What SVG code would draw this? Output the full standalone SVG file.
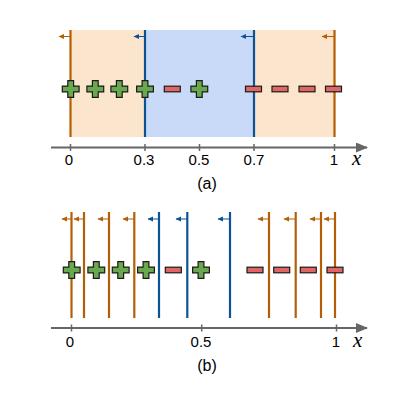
<svg xmlns="http://www.w3.org/2000/svg" width="415" height="415" viewBox="0 0 415 415">
<defs>
<style>
.o{stroke:#b45f06;stroke-width:2.2;fill:none}
.b{stroke:#0b5394;stroke-width:2.2;fill:none}
.ao{stroke:#b45f06;stroke-width:1;fill:none}
.ab{stroke:#0b5394;stroke-width:1;fill:none}
.ax{stroke:#666;stroke-width:2;fill:none}
.tk{stroke:#666;stroke-width:1.5}
.lbl{font-family:"Liberation Sans",Arial,sans-serif;font-size:15px;fill:#000;text-anchor:middle}
.cap{font-family:"Liberation Sans",Arial,sans-serif;font-size:16px;fill:#000;text-anchor:middle}
.xv{font-family:"Liberation Serif","Times New Roman",serif;font-style:italic;font-size:21px;fill:#000}
.plus{fill:#6aa84f;stroke:#1a1a1a;stroke-width:1.2}
.minus{fill:#e06666;stroke:#1a1a1a;stroke-width:1.2}
</style>
<marker id="ahO" markerWidth="6" markerHeight="6" refX="5" refY="3" orient="auto" markerUnits="userSpaceOnUse"><path d="M0,0.5 L5.5,3 L0,5.5 Z" fill="#b45f06"/></marker>
<marker id="ahB" markerWidth="6" markerHeight="6" refX="5" refY="3" orient="auto" markerUnits="userSpaceOnUse"><path d="M0,0.5 L5.5,3 L0,5.5 Z" fill="#0b5394"/></marker>
<marker id="ahX" markerWidth="12" markerHeight="10" refX="11" refY="5" orient="auto" markerUnits="userSpaceOnUse"><path d="M0,0 L12,5 L0,10 Z" fill="#666"/></marker>
<path id="P" class="plus" d="M-2.9,-8.4 H2.9 V-2.9 H8.4 V2.9 H2.9 V8.4 H-2.9 V2.9 H-8.4 V-2.9 H-2.9 Z"/>
<rect id="M" class="minus" x="-8" y="-2.8" width="16" height="5.6"/>
</defs>

<g id="panel-a">
<g id="regions-a">
<rect x="70.5" y="30" width="74.5" height="107" fill="#fce5cd"/>
<rect x="145" y="30" width="109" height="107" fill="#c9daf8"/>
<rect x="254" y="30" width="81.5" height="107" fill="#fce5cd"/>
</g>
<g id="connectors-a">
<line class="o" x1="70.5" y1="30" x2="70.5" y2="137"/>
<line class="b" x1="145" y1="30" x2="145" y2="137"/>
<line class="b" x1="254" y1="30" x2="254" y2="137"/>
<line class="o" x1="334.5" y1="30" x2="334.5" y2="137"/>
<line class="ao" x1="70.5" y1="36.5" x2="59" y2="36.5" marker-end="url(#ahO)"/>
<line class="ab" x1="145" y1="36.5" x2="134" y2="36.5" marker-end="url(#ahB)"/>
<line class="ab" x1="254" y1="36.5" x2="241" y2="36.5" marker-end="url(#ahB)"/>
<line class="ao" x1="334.5" y1="36.5" x2="322" y2="36.5" marker-end="url(#ahO)"/>
<line class="ax" x1="51" y1="147.5" x2="367" y2="147.5" marker-end="url(#ahX)"/>
</g>
<g id="ticks-a">
<line class="tk" x1="70.5" y1="144" x2="70.5" y2="151"/>
<line class="tk" x1="145" y1="144" x2="145" y2="151"/>
<line class="tk" x1="199.5" y1="144" x2="199.5" y2="151"/>
<line class="tk" x1="254" y1="144" x2="254" y2="151"/>
<line class="tk" x1="334.5" y1="144" x2="334.5" y2="151"/>
</g>
<g id="points-a">
<use href="#P" x="70.7" y="89"/>
<use href="#P" x="95.3" y="89"/>
<use href="#P" x="119.3" y="89"/>
<use href="#P" x="145" y="89"/>
<use href="#M" x="172.3" y="89"/>
<use href="#P" x="199.3" y="89"/>
<use href="#M" x="253.5" y="89"/>
<use href="#M" x="280" y="89"/>
<use href="#M" x="307" y="89"/>
<use href="#M" x="333.5" y="89"/>
</g>
<g id="labels-a">
<text class="lbl" x="69" y="165">0</text>
<text class="lbl" x="144" y="165">0.3</text>
<text class="lbl" x="199" y="165">0.5</text>
<text class="lbl" x="254" y="165">0.7</text>
<text class="lbl" x="334" y="165">1</text>
<text class="xv" x="352" y="165">x</text>
<text class="cap" x="207" y="189">(a)</text>
</g>
</g>

<g id="panel-b">
<g id="connectors-b">
<line class="o" x1="71.5" y1="212" x2="71.5" y2="318"/>
<line class="o" x1="84" y1="212" x2="84" y2="318"/>
<line class="o" x1="109" y1="212" x2="109" y2="318"/>
<line class="o" x1="134.3" y1="212" x2="134.3" y2="318"/>
<line class="b" x1="159" y1="212" x2="159" y2="318"/>
<line class="b" x1="187.3" y1="212" x2="187.3" y2="318"/>
<line class="b" x1="230" y1="212" x2="230" y2="318"/>
<line class="o" x1="269" y1="212" x2="269" y2="318"/>
<line class="o" x1="295.7" y1="212" x2="295.7" y2="318"/>
<line class="o" x1="321" y1="212" x2="321" y2="318"/>
<line class="o" x1="335" y1="212" x2="335" y2="318"/>
<line class="ao" x1="71.5" y1="219" x2="62" y2="219" marker-end="url(#ahO)"/>
<line class="ao" x1="84" y1="219" x2="74" y2="219" marker-end="url(#ahO)"/>
<line class="ao" x1="109" y1="219" x2="98" y2="219" marker-end="url(#ahO)"/>
<line class="ao" x1="134.3" y1="219" x2="123" y2="219" marker-end="url(#ahO)"/>
<line class="ab" x1="159" y1="219" x2="148" y2="219" marker-end="url(#ahB)"/>
<line class="ab" x1="187.3" y1="219" x2="176" y2="219" marker-end="url(#ahB)"/>
<line class="ab" x1="230" y1="219" x2="218" y2="219" marker-end="url(#ahB)"/>
<line class="ao" x1="269" y1="219" x2="258" y2="219" marker-end="url(#ahO)"/>
<line class="ao" x1="295.7" y1="219" x2="284" y2="219" marker-end="url(#ahO)"/>
<line class="ao" x1="321" y1="219" x2="310" y2="219" marker-end="url(#ahO)"/>
<line class="ao" x1="335" y1="219" x2="324" y2="219" marker-end="url(#ahO)"/>
<line class="ax" x1="51" y1="328" x2="367" y2="328" marker-end="url(#ahX)"/>
</g>
<g id="ticks-b">
<line class="tk" x1="71.5" y1="324.5" x2="71.5" y2="331.5"/>
<line class="tk" x1="201.7" y1="324.5" x2="201.7" y2="331.5"/>
<line class="tk" x1="336.5" y1="324.5" x2="336.5" y2="331.5"/>
</g>
<g id="points-b">
<use href="#P" x="71.7" y="270"/>
<use href="#P" x="96.3" y="270"/>
<use href="#P" x="120.7" y="270"/>
<use href="#P" x="146" y="270"/>
<use href="#M" x="173.3" y="270"/>
<use href="#P" x="201" y="270"/>
<use href="#M" x="255" y="270"/>
<use href="#M" x="281.7" y="270"/>
<use href="#M" x="308.3" y="270"/>
<use href="#M" x="335" y="270"/>
</g>
<g id="labels-b">
<text class="lbl" x="70" y="347">0</text>
<text class="lbl" x="201" y="347">0.5</text>
<text class="lbl" x="336" y="347">1</text>
<text class="xv" x="353" y="347">x</text>
<text class="cap" x="207" y="371">(b)</text>
</g>
</g>
</svg>
